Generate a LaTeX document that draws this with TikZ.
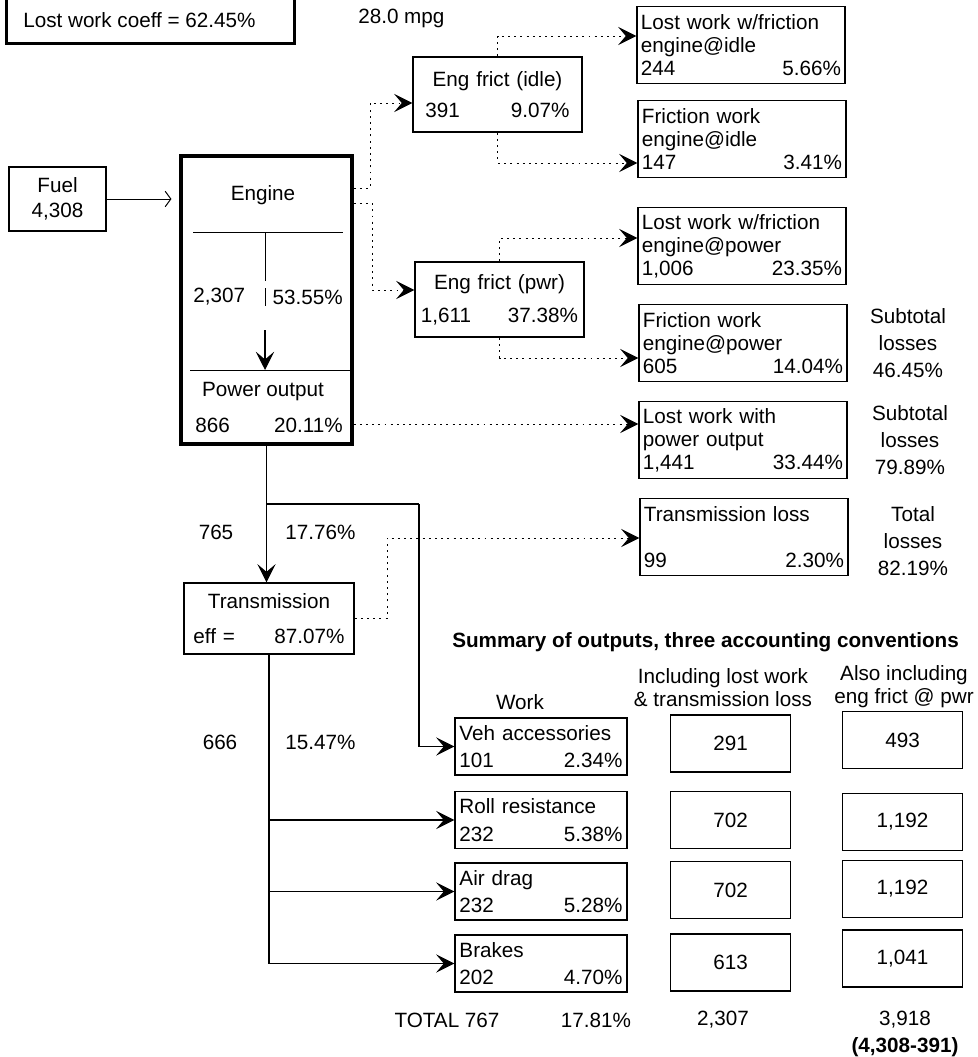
\documentclass[tikz,border=0pt]{standalone}
\usepackage{fontspec}
\setmainfont{Liberation Sans}
\usetikzlibrary{arrows.meta}

\begin{document}
\begin{tikzpicture}[x=0.025cm,y=-0.025cm,
  every node/.style={font=\fontsize{14.7}{16.4}\selectfont},
  lbl/.style={inner sep=0pt},
  box/.style={draw,line width=0.9pt,inner ysep=0pt},
  lossbox/.style={box,text width=5cm,inner xsep=0.1cm,minimum height=1.925cm,align=left},
  workbox/.style={box,text width=4.075cm,inner xsep=0.1125cm,minimum height=1.425cm,align=left},
  sumbox/.style={box,minimum width=3cm,minimum height=1.425cm},
  flow/.style={line width=0.8pt,-{Stealth[length=13pt,width=13pt,inset=5.5pt]}},
  loss/.style={line width=0.7pt,dash pattern=on 1.4pt off 3pt,-{Stealth[length=13pt,width=13pt,inset=5.5pt]}}]

  \useasboundingbox (0,0) rectangle (978,1057);

  % header
  \node[draw,line width=1.8pt,minimum width=7.2cm,minimum height=2.5cm,anchor=south west] (coeffbox) at (5,45) {};
  \node[lbl,anchor=west] (coeff) at (23,20) {Lost work coeff = 62.45\%};
  \node[lbl,anchor=west] (mpg) at (358,18) {28.0 mpg};

  % fuel and engine
  \node[box,minimum width=2.425cm,minimum height=1.6cm,align=center] (fuel) at (57.5,199) {Fuel\\[1pt]4,308};
  \node[draw,line width=2.2pt,minimum width=4.275cm,minimum height=7.2cm] (engine) at (266.5,300) {};
  \node[lbl] (englbl) at (263,195) {Engine};
  \coordinate (engtopL) at (193,232);
  \coordinate (engtopR) at (343,232);
  \draw[line width=0.7pt] (engtopL) -- (engtopR);
  \node[lbl,anchor=west] (indwork) at (193,297) {2,307};
  \node[lbl,anchor=east] (indpct) at (343,297) {53.55\%};
  \coordinate (engmid) at (265,232);
  \draw[line width=0.7pt] (engmid) -- (265,281) (265,288) -- (265,306);
  \coordinate (engbotL) at (190,370);
  \draw[line width=0.7pt] (engbotL) -- (engbotL -| engine.east);
  \draw[flow] (265,330) -- (265,370);
  \node[lbl] (powlbl) at (263,392) {Power output};
  \node[lbl,anchor=west] (powwork) at (195,425) {866};
  \node[lbl,anchor=east] (powpct) at (343,425) {20.11\%};

  \draw[line width=0.7pt,shorten >=0.2cm,-{Straight Barb[length=4pt,width=11pt]}] (fuel.east) -- (fuel.east -| engine.west);

  % engine friction
  \node[box,text width=3.6cm,inner xsep=0.3125cm,minimum height=1.875cm,align=center] (fidle) at (497.5,94.5) {Eng frict (idle)\\[6pt]391\hfill 9.07\%};
  \node[box,text width=3.925cm,inner xsep=0.15cm,minimum height=1.875cm,align=center] (fpwr) at (499.5,299.5) {Eng frict (pwr)\\[7pt]1,611\hfill 37.38\%};

  % losses
  \node[lossbox] (lwidle) at (741,45) {Lost work w/friction\\engine@idle\\244\hfill 5.66\%};
  \node[lossbox] (fwidle) at (742,139) {Friction work\\engine@idle\\147\hfill 3.41\%};
  \node[lossbox] (lwpwr) at (742,246) {Lost work w/friction\\engine@power\\1,006\hfill 23.35\%};
  \node[lossbox] (fwpwr) at (743,343) {Friction work\\engine@power\\605\hfill 14.04\%};
  \node[lossbox] (lwout) at (743,440) {Lost work with\\power output\\1,441\hfill 33.44\%};
  \node[lossbox] (transloss) at (744,537) {Transmission loss\\\mbox{}\\99\hfill 2.30\%};

  \node[lbl,align=center] (sub1) at (908,343) {Subtotal\\[3pt]losses\\[3pt]46.45\%};
  \node[lbl,align=center] (sub2) at (910,440) {Subtotal\\[3pt]losses\\[3pt]79.89\%};
  \node[lbl,align=center] (total) at (913,541) {Total\\[3pt]losses\\[3pt]82.19\%};

  % transmission
  \node[box,text width=3.775cm,inner xsep=0.2375cm,minimum height=1.775cm,align=center] (trans) at (269,618.5) {Transmission\\[8pt]eff =\hfill 87.07\%};
  \node[lbl] (flow765) at (216,532) {765};
  \node[lbl,anchor=west] (pct765) at (285,532) {17.76\%};
  \node[lbl] (flow666) at (220,742) {666};
  \node[lbl,anchor=west] (pct666) at (285,742) {15.47\%};

  % summary
  \node[lbl,anchor=west,font=\fontsize{14.7}{16.4}\selectfont\bfseries] (summary) at (452,642) {Summary of outputs, three accounting conventions};
  \node[lbl] (workhd) at (520,702) {Work};
  \node[lbl,align=center] (lwhd) at (723,688) {Including lost work\\\& transmission loss};
  \node[lbl,align=center] (frhd) at (904,687) {Also including\\eng frict @ pwr};

  \node[workbox] (vehacc) at (541,746.5) {Veh accessories\\[3pt]101\hfill 2.34\%};
  \node[workbox] (roll) at (541,820) {Roll resistance\\[3pt]232\hfill 5.38\%};
  \node[workbox] (air) at (541,891.5) {Air drag\\[3pt]232\hfill 5.28\%};
  \node[workbox] (brakes) at (541,963.5) {Brakes\\[3pt]202\hfill 4.70\%};

  \node[sumbox] (lwacc) at (730.5,743.5) {291};
  \node[sumbox] (lwroll) at (730.5,820) {702};
  \node[sumbox] (lwair) at (730.5,890) {702};
  \node[sumbox] (lwbrk) at (730.5,962.5) {613};
  \node[sumbox] (fracc) at (902.5,740) {493};
  \node[sumbox] (frroll) at (902.5,822) {1,192};
  \node[sumbox] (frair) at (902.5,889) {1,192};
  \node[sumbox] (frbrk) at (902.5,958.5) {1,041};

  \node[lbl] (totwork) at (447,1020) {TOTAL 767};
  \node[lbl] (totpct) at (596,1020) {17.81\%};
  \node[lbl] (totlw) at (723,1020) {2,307};
  \node[lbl] (totfr) at (905,1020) {3,918};
  \node[lbl,font=\fontsize{14.7}{16.4}\selectfont\bfseries] (totfrcalc) at (905,1047) {(4,308-391)};

  % work flows
  \draw[flow] (engine.south) -- (engine.south |- trans.north);
  \coordinate (accsplit) at (engine.south |- 0,504);
  \coordinate (accbend) at (419,504);
  \draw[line width=0.8pt] (accsplit) -- (accbend);
  \draw[flow] (accbend) |- (vehacc.west);
  \draw[line width=0.8pt] (trans.south) -- (trans.south |- brakes.west);
  \draw[flow] (trans.south |- roll.west) -- (roll.west);
  \draw[flow] (trans.south |- air.west) -- (air.west);
  \draw[flow] (trans.south |- brakes.west) -- (brakes.west);

  % loss flows
  \draw[loss] (engine.east |- 0,188) -| (370,103) -- (fidle.west |- 0,103);
  \draw[loss] (engine.east |- 0,203) -| (372,290) -- (fpwr.west |- 0,290);
  \draw[loss] (fidle.north) |- (lwidle.west |- 0,36);
  \draw[loss] (fidle.south) |- (fwidle.west |- 0,163);
  \draw[loss] (fpwr.north) |- (lwpwr.west |- 0,238);
  \draw[loss] (fpwr.south) |- (fwpwr.west |- 0,358);
  \draw[loss] (engine.east |- 0,424) -- (lwout.west |- 0,424);
  \draw[loss] (trans.east) -| (387,538) -- (transloss.west |- 0,538);

\end{tikzpicture}
\end{document}
